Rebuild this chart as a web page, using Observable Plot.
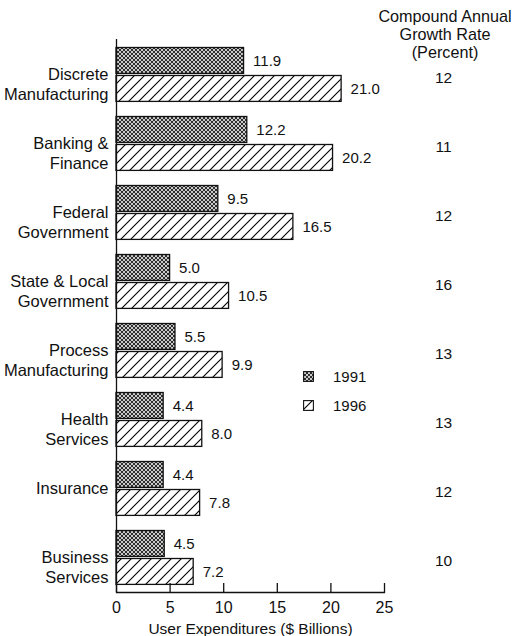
<!DOCTYPE html>
<html>
<head>
<meta charset="utf-8">
<script src="https://cdn.jsdelivr.net/npm/d3@7"></script>
<script src="https://cdn.jsdelivr.net/npm/@observablehq/plot@0.6"></script>
<style>
  html, body { margin: 0; padding: 0; background: #fff; }
  body { font-family: "Liberation Sans", Arial, Helvetica, sans-serif; color: #111; }
  #wrap { position: relative; width: 515px; height: 636px; overflow: hidden; }
  #header { position: absolute; left: 375px; top: 7px; width: 140px; text-align: center; font-size: 16.2px; line-height: 18px; }
  #legend { position: absolute; left: 303px; top: 362px; font-size: 15px; }
  #legend .row { display: flex; align-items: center; height: 29px; }
  #legend svg { margin-right: 19px; }
</style>
</head>
<body>
<svg width="0" height="0" style="position:absolute">
  <defs>
    <pattern id="pat1991" patternUnits="userSpaceOnUse" width="4" height="4">
      <rect width="4" height="4" fill="#2e2e2e"></rect>
      <circle cx="0" cy="0" r="1" fill="#fff"></circle>
      <circle cx="4" cy="0" r="1" fill="#fff"></circle>
      <circle cx="0" cy="4" r="1" fill="#fff"></circle>
      <circle cx="4" cy="4" r="1" fill="#fff"></circle>
      <circle cx="2" cy="2" r="1" fill="#fff"></circle>
    </pattern>
    <pattern id="pat1996" patternUnits="userSpaceOnUse" width="10" height="10">
      <rect width="10" height="10" fill="#fff"></rect>
      <path d="M0,10 L10,0 M-2.5,2.5 L2.5,-2.5 M7.5,12.5 L12.5,7.5" stroke="#000" stroke-width="1.1"></path>
    </pattern>
  </defs>
</svg>
<div id="wrap">
  <div id="chart"></div>
  <div id="header">Compound Annual<br>Growth Rate<br>(Percent)</div>
  <div id="legend"></div>
</div>
<script>
// ---- data ----
const categories = [
  "Discrete\nManufacturing",
  "Banking &\nFinance",
  "Federal\nGovernment",
  "State & Local\nGovernment",
  "Process\nManufacturing",
  "Health\nServices",
  "Insurance",
  "Business\nServices"
];
const series = ["1991", "1996"];
const values1991 = [11.9, 12.2, 9.5, 5.0, 5.5, 4.4, 4.4, 4.5];
const values1996 = [21.0, 20.2, 16.5, 10.5, 9.9, 8.0, 7.8, 7.2];
const growthRates = [12, 11, 12, 16, 13, 13, 12, 10];
const xTicks = [0, 5, 10, 15, 20, 25];
const xLabel = "User Expenditures ($ Billions)";
const patterns = {"1991": "url(#pat1991)", "1996": "url(#pat1996)"};

// ---- build table ----
const data = categories.flatMap((c, i) => [
  {category: c, year: series[0], value: values1991[i]},
  {category: c, year: series[1], value: values1996[i]}
]);
const d91 = data.filter(d => d.year === series[0]);
const d96 = data.filter(d => d.year === series[1]);
const growthBy = new Map(categories.map((c, i) => [c, growthRates[i]]));

const W = 515, H = 636, mT = 39, mB = 44, mL = 116, mR = 131;
const yRange = [39.5, 592.3];
const step = (yRange[1] - yRange[0]) / categories.length;

const chart = Plot.plot({
  width: W, height: H,
  marginTop: mT, marginBottom: mB, marginLeft: mL, marginRight: mR,
  style: {fontFamily: "'Liberation Sans', Arial, Helvetica, sans-serif", fontSize: "15px", color: "#111", background: "white"},
  x: {domain: [0, 25]},
  y: {domain: categories, range: yRange, padding: 0},
  marks: [
    Plot.barX(d91, {x: "value", y: "category", fill: patterns["1991"], stroke: "#111", strokeWidth: 1.3, insetTop: 7.5, insetBottom: step - 33.5}),
    Plot.barX(d96, {x: "value", y: "category", fill: patterns["1996"], stroke: "#111", strokeWidth: 1.3, insetTop: 35.5, insetBottom: 7.6}),
    Plot.text(d91, {x: "value", y: "category", text: d => d.value.toFixed(1), textAnchor: "start", dx: 9, dy: -14, fontSize: 15}),
    Plot.text(d96, {x: "value", y: "category", text: d => d.value.toFixed(1), textAnchor: "start", dx: 9, dy: 14, fontSize: 15}),
    Plot.ruleX([0], {stroke: "#111", strokeWidth: 1.3}),
    Plot.frame({anchor: "bottom", stroke: "#111", strokeWidth: 1.3}),
    Plot.tickX(xTicks, {x: d => d, insetTop: H - mT - mB - 9, stroke: "#111", strokeWidth: 1.3}),
    Plot.axisX({ticks: xTicks, tickSize: 0, tickPadding: 9, fontSize: 16, label: null}),
    Plot.axisX({ticks: [], label: xLabel, labelAnchor: "center", labelArrow: "none", labelOffset: 41, fontSize: 15.5}),
    Plot.axisY({tickSize: 0, tickPadding: 8, lineAnchor: "top", dy: -9, lineHeight: 1.2, fontSize: 16.5, label: null}),
    Plot.axisY({anchor: "right", tickSize: 0, tickPadding: 59, textAnchor: "middle", tickFormat: d => growthBy.get(d), dy: 3.5, fontSize: 15.5, label: null})
  ]
});
document.getElementById("chart").appendChild(chart);

// ---- legend ----
const legend = document.getElementById("legend");
for (const s of series) {
  const row = document.createElement("div");
  row.className = "row";
  row.innerHTML = `<svg width="11" height="11"><rect x="0.6" y="0.6" width="9.8" height="9.8" fill="${patterns[s]}" stroke="#111" stroke-width="1.1"></rect></svg><span>${s}</span>`;
  legend.appendChild(row);
}
</script>
</body>
</html>
